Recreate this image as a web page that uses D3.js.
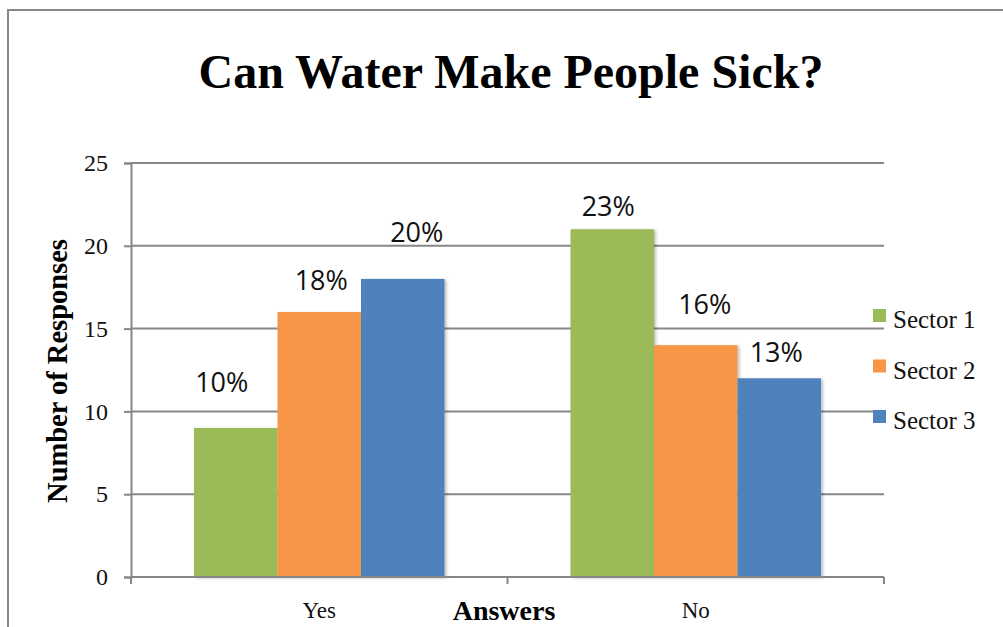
<!DOCTYPE html>
<html>
<head>
<meta charset="utf-8">
<script src="https://cdn.jsdelivr.net/npm/d3@7"></script>
<style>
  html, body { margin: 0; padding: 0; background: #fff; }
  svg { display: block; }
</style>
</head>
<body>
<svg id="chart" width="1003" height="627"></svg>
<script>
// Survey answers grouped by sector
const categories = ["Yes", "No"];
const seriesNames = ["Sector 1", "Sector 2", "Sector 3"];
const sector1 = [9, 21];
const sector2 = [16, 14];
const sector3 = [18, 12];
const percentLabels = [
  ["10%", "23%"],
  ["18%", "16%"],
  ["20%", "13%"]
];
const yTicks = [0, 5, 10, 15, 20, 25];

// Placement of each percentage label relative to its bar (dx, dy to baseline)
const labelNudge = [
  [[-14, -36], [-4, -13]],
  [[2, -22], [9, -31]],
  [[14, -37], [-3, -16]]
];

const colors = ["#9BBB59", "#F79646", "#4F81BD"];
const seriesValues = [sector1, sector2, sector3];
const lineColor = "#878787";

const svg = d3.select("#chart");
const plot = { left: 131, right: 884, top: 163, bottom: 577 };

// Outer chart frame
svg.append("rect")
  .attr("x", 8).attr("y", 10)
  .attr("width", 1200).attr("height", 800)
  .attr("fill", "#fff")
  .attr("stroke", lineColor).attr("stroke-width", 2);

const defs = svg.append("defs");
const shadow = defs.append("filter").attr("id", "barShadow")
  .attr("x", "-10%").attr("y", "-10%").attr("width", "130%").attr("height", "130%");
shadow.append("feDropShadow")
  .attr("dx", 2).attr("dy", 1).attr("stdDeviation", 1.5)
  .attr("flood-color", "#000").attr("flood-opacity", 0.25);

const x = d3.scaleBand().domain(categories).range([plot.left, plot.right]).padding(0);
const xs = d3.scaleBand().domain(seriesNames).range([0, x.bandwidth()])
  .paddingInner(0).paddingOuter(0.754);
const y = d3.scaleLinear().domain([0, 25]).range([plot.bottom, plot.top]);

// Horizontal gridlines
svg.append("g").selectAll("line")
  .data(yTicks.filter(d => d > 0))
  .join("line")
  .attr("x1", plot.left).attr("x2", plot.right)
  .attr("y1", d => y(d)).attr("y2", d => y(d))
  .attr("stroke", lineColor).attr("stroke-width", 2);

// Y axis
const yAxis = svg.append("g")
  .attr("transform", `translate(${plot.left},0)`)
  .call(d3.axisLeft(y).tickValues(yTicks).tickSize(7).tickPadding(16));
yAxis.select(".domain").attr("stroke", lineColor).attr("stroke-width", 2);
yAxis.selectAll(".tick line").attr("stroke", lineColor).attr("stroke-width", 2);
yAxis.selectAll(".tick text")
  .attr("font-family", "'Liberation Serif', 'Times New Roman', serif")
  .attr("font-size", 24).attr("fill", "#111");

// Bars
const groups = svg.append("g").selectAll("g")
  .data(seriesNames)
  .join("g")
  .attr("fill", (d, i) => colors[i]);

groups.selectAll("rect")
  .data((s, si) => categories.map((c, ci) => ({ s, si, c, ci, v: seriesValues[si][ci] })))
  .join("rect")
  .attr("x", d => x(d.c) + xs(d.s))
  .attr("y", d => y(d.v))
  .attr("width", xs.bandwidth())
  .attr("height", d => y(0) - y(d.v))
  .attr("filter", "url(#barShadow)");

// Percentage labels above bars
groups.selectAll("text")
  .data((s, si) => categories.map((c, ci) => ({ s, si, c, ci, v: seriesValues[si][ci] })))
  .join("text")
  .attr("x", d => x(d.c) + xs(d.s) + xs.bandwidth() / 2 + labelNudge[d.si][d.ci][0])
  .attr("y", d => y(d.v) + labelNudge[d.si][d.ci][1])
  .attr("text-anchor", "middle")
  .attr("font-family", "'Open Sans', 'DejaVu Sans', sans-serif")
  .attr("font-size", 27)
  .attr("fill", "#111")
  .text(d => percentLabels[d.si][d.ci]);

// X axis
const xAxis = svg.append("g")
  .attr("transform", `translate(0,${plot.bottom})`);
xAxis.append("line")
  .attr("x1", plot.left).attr("x2", plot.right)
  .attr("stroke", lineColor).attr("stroke-width", 2);
const boundaries = [x.range()[0], ...categories.map(c => x(c) + x.bandwidth())];
xAxis.selectAll("line.tick")
  .data(boundaries)
  .join("line")
  .attr("class", "tick")
  .attr("x1", d => d).attr("x2", d => d)
  .attr("y1", 0).attr("y2", 7)
  .attr("stroke", lineColor).attr("stroke-width", 2);
xAxis.selectAll("text")
  .data(categories)
  .join("text")
  .attr("x", d => x(d) + x.bandwidth() / 2)
  .attr("y", 41)
  .attr("text-anchor", "middle")
  .attr("font-family", "'Liberation Serif', 'Times New Roman', serif")
  .attr("font-size", 23)
  .attr("fill", "#111")
  .text(d => d);

// Title
svg.append("text")
  .attr("x", 511).attr("y", 88)
  .attr("text-anchor", "middle")
  .attr("font-family", "'Liberation Serif', 'Times New Roman', serif")
  .attr("font-weight", "bold")
  .attr("font-size", 48)
  .attr("fill", "#000")
  .text("Can Water Make People Sick?");

// Axis titles
svg.append("text")
  .attr("transform", "translate(67,371) rotate(-90)")
  .attr("text-anchor", "middle")
  .attr("font-family", "'Liberation Serif', 'Times New Roman', serif")
  .attr("font-weight", "bold")
  .attr("font-size", 28.5)
  .attr("fill", "#000")
  .text("Number of Responses");

svg.append("text")
  .attr("x", 504).attr("y", 620)
  .attr("text-anchor", "middle")
  .attr("font-family", "'Liberation Serif', 'Times New Roman', serif")
  .attr("font-weight", "bold")
  .attr("font-size", 28)
  .attr("fill", "#000")
  .text("Answers");

// Legend
const legend = svg.append("g").selectAll("g")
  .data(seriesNames)
  .join("g")
  .attr("transform", (d, i) => `translate(873,${309 + i * 50.5})`);
legend.append("rect")
  .attr("width", 13).attr("height", 13)
  .attr("fill", (d, i) => colors[i]);
legend.append("text")
  .attr("x", 20).attr("y", 19)
  .attr("font-family", "'Liberation Serif', 'Times New Roman', serif")
  .attr("font-size", 25)
  .attr("fill", "#111")
  .text(d => d);
</script>
</body>
</html>
